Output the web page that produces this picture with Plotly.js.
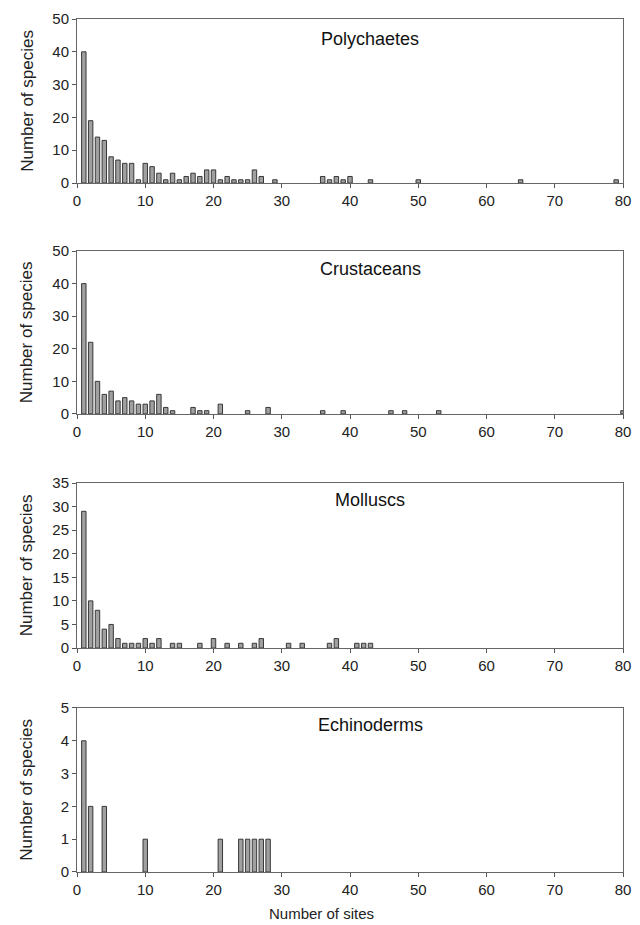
<!DOCTYPE html>
<html>
<head>
<meta charset="utf-8">
<script src="https://cdn.plot.ly/plotly-3.0.1.min.js"></script>
<style>
  html, body { margin: 0; padding: 0; background: #fff; }
  #chart { width: 640px; height: 925px; }
</style>
</head>
<body>
<div id="chart"></div>
<script>
// Number of species recorded at a given number of sites, per taxon
const polySites   = [1,2,3,4,5,6,7,8,9,10,11,12,13,14,15,16,17,18,19,20,21,22,23,24,25,26,27,29,36,37,38,39,40,43,50,65,79];
const polySpecies = [40,19,14,13,8,7,6,6,1,6,5,3,1,3,1,2,3,2,4,4,1,2,1,1,1,4,2,1,2,1,2,1,2,1,1,1,1];

const crusSites   = [1,2,3,4,5,6,7,8,9,10,11,12,13,14,17,18,19,21,25,28,36,39,46,48,53,80];
const crusSpecies = [40,22,10,6,7,4,5,4,3,3,4,6,2,1,2,1,1,3,1,2,1,1,1,1,1,1];

const mollSites   = [1,2,3,4,5,6,7,8,9,10,11,12,14,15,18,20,22,24,26,27,31,33,37,38,41,42,43];
const mollSpecies = [29,10,8,4,5,2,1,1,1,2,1,2,1,1,1,2,1,1,1,2,1,1,1,2,1,1,1];

const echiSites   = [1,2,4,10,21,24,25,26,27,28];
const echiSpecies = [4,2,2,1,1,1,1,1,1,1];

const panelTitles = ['Polychaetes', 'Crustaceans', 'Molluscs', 'Echinoderms'];
const panelYMax   = [50, 50, 35, 5];
const panelYStep  = [10, 10, 5, 1];
const xTicks      = [0, 10, 20, 30, 40, 50, 60, 70, 80];
const yTitle      = 'Number of species';
const xTitle      = 'Number of sites';

const groups = [
  [polySites, polySpecies],
  [crusSites, crusSpecies],
  [mollSites, mollSpecies],
  [echiSites, echiSpecies]
];

// vertical placement of the four stacked panels (paper fractions)
const domains = [[0.8077, 1.0], [0.537, 0.728], [0.2626, 0.456], [0.0, 0.1923]];
const titleY  = [0.977, 0.707, 0.436, 0.172];

const font = 'Liberation Sans, Arial, sans-serif';
const ink = '#222';
const traces = [];
const layout = {
  width: 640, height: 925,
  margin: { l: 77, r: 17, t: 19, b: 53 },
  paper_bgcolor: '#fff', plot_bgcolor: '#fff',
  showlegend: false,
  font: { family: font, size: 15, color: ink },
  annotations: []
};

groups.forEach(([xs, ys], i) => {
  const n = i + 1;
  const xa = n === 1 ? 'x' : 'x' + n;
  const ya = n === 1 ? 'y' : 'y' + n;
  traces.push({
    type: 'bar', x: xs, y: ys, xaxis: xa, yaxis: ya,
    width: 0.65,
    marker: { color: '#a0a0a0', line: { color: '#383838', width: 1 } },
    hoverinfo: 'x+y'
  });
  const xKey = n === 1 ? 'xaxis' : 'xaxis' + n;
  const yKey = n === 1 ? 'yaxis' : 'yaxis' + n;
  layout[xKey] = {
    domain: [0, 1], anchor: ya, range: [0, 80],
    tickvals: xTicks, ticks: 'outside', ticklen: 4, tickcolor: '#555',
    showline: true, linecolor: '#666', linewidth: 1, mirror: true,
    showgrid: false, zeroline: false,
    tickfont: { family: font, size: 15, color: ink }
  };
  layout[yKey] = {
    domain: domains[i], anchor: xa, range: [0, panelYMax[i]],
    dtick: panelYStep[i], tick0: 0, ticks: 'outside', ticklen: 4, tickcolor: '#555',
    showline: true, linecolor: '#666', linewidth: 1, mirror: true,
    showgrid: false, zeroline: false,
    tickfont: { family: font, size: 15, color: ink }
  };
  // taxon name inside the top of each panel
  layout.annotations.push({
    text: panelTitles[i], xref: 'paper', yref: 'paper',
    x: 0.537, y: titleY[i],
    xanchor: 'center', yanchor: 'middle', showarrow: false,
    font: { family: font, size: 18, color: '#111' }
  });
  // y-axis title, kept at the same horizontal position for every panel
  layout.annotations.push({
    text: yTitle, xref: 'paper', yref: 'paper',
    x: -0.092, y: (domains[i][0] + domains[i][1]) / 2,
    xanchor: 'center', yanchor: 'middle', textangle: -90, showarrow: false,
    font: { family: font, size: 17, color: ink }
  });
});

// shared x-axis title under the bottom panel
layout.annotations.push({
  text: xTitle, xref: 'paper', yref: 'paper',
  x: 0.447, y: -0.049,
  xanchor: 'center', yanchor: 'middle', showarrow: false,
  font: { family: font, size: 15, color: ink }
});

Plotly.newPlot('chart', traces, layout, { displayModeBar: false, staticPlot: true });
</script>
</body>
</html>
